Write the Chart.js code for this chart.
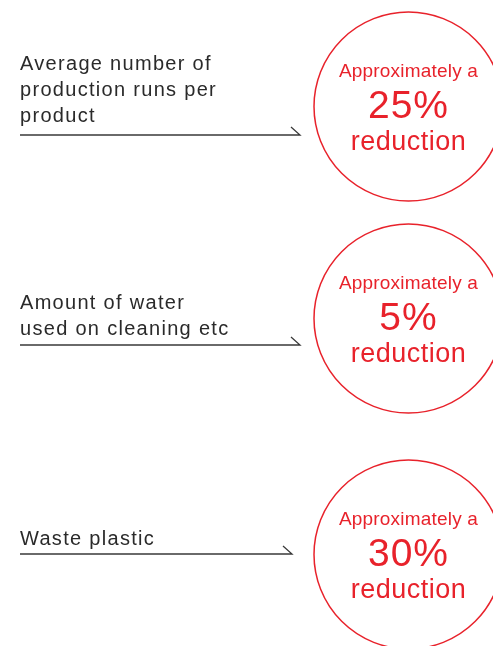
<!DOCTYPE html>
<html>
<head>
<meta charset="utf-8">
<script src="https://cdn.jsdelivr.net/npm/chart.js@4/dist/chart.umd.min.js"></script>
<style>
  html, body { margin: 0; padding: 0; background: #fff; }
  #wrap { width: 493px; height: 646px; }
</style>
</head>
<body>
<div id="wrap"><canvas id="infoChart" width="493" height="646"></canvas></div>
<script>
// data
const categories = [
    ['Average number of', 'production runs per', 'product'],
    ['Amount of water', 'used on cleaning etc'],
    ['Waste plastic']
];
const reductions = [25, 5, 30];
const prefixText = 'Approximately a';
const suffixText = 'reduction';

// layout (in the chart's own axis units, which run 0..493 / 0..646)
const rowCenters = [106.5, 318.5, 554.5];
const labelBaselines = [122, 335, 545];
const lineRows = [135, 345, 554];
const lineStarts = [20, 20, 20];
const lineEnds = [300, 300, 292];
const circleX = 408.5;

const RED = '#e8222b';
const INK = '#2a2a2a';

const lineDatasets = categories.map((c, i) => ({
    type: 'line',
    data: [
        { x: lineStarts[i], y: lineRows[i] },
        { x: lineEnds[i], y: lineRows[i] },
        { x: lineEnds[i] - 9, y: lineRows[i] - 8 }
    ],
    borderColor: '#3a3a3a',
    borderWidth: 1.3,
    pointRadius: 0,
    fill: false,
    tension: 0,
    clip: false
}));

const textPlugin = {
    id: 'textPlugin',
    afterDraw(chart) {
        const ctx = chart.ctx;
        const xs = chart.scales.x;
        const ys = chart.scales.y;
        ctx.save();
        ctx.textBaseline = 'alphabetic';

        // left labels, sitting above their lines
        ctx.fillStyle = INK;
        ctx.textAlign = 'left';
        ctx.font = '20px "Liberation Sans", Arial, sans-serif';
        ctx.letterSpacing = '1.3px';
        categories.forEach((lines, i) => {
            const baseY = ys.getPixelForValue(labelBaselines[i]);
            lines.slice().reverse().forEach((t, k) => {
                ctx.fillText(t, xs.getPixelForValue(lineStarts[i]), baseY - k * 25.8);
            });
        });

        // circle texts
        ctx.fillStyle = RED;
        ctx.textAlign = 'center';
        reductions.forEach((v, i) => {
            const cx = xs.getPixelForValue(circleX);
            const cy = ys.getPixelForValue(rowCenters[i]);
            ctx.font = '19px "Liberation Sans", Arial, sans-serif';
            ctx.letterSpacing = '0.2px';
            ctx.fillText(prefixText, cx, cy - 29.5);
            ctx.font = '39px "Liberation Sans", Arial, sans-serif';
            ctx.letterSpacing = '1px';
            ctx.fillText(v + '%', cx, cy + 11);
            ctx.font = '27px "Liberation Sans", Arial, sans-serif';
            ctx.letterSpacing = '0.5px';
            ctx.fillText(suffixText, cx, cy + 43);
        });
        ctx.restore();
    }
};

new Chart(document.getElementById('infoChart'), {
    type: 'scatter',
    data: {
        datasets: [
            {
                data: reductions.map((v, i) => ({ x: circleX, y: rowCenters[i], v: v })),
                pointRadius: 94.5,
                pointHoverRadius: 94.5,
                pointBorderWidth: 1.5,
                borderColor: RED,
                backgroundColor: 'rgba(0,0,0,0)',
                clip: false
            },
            ...lineDatasets
        ]
    },
    options: {
        responsive: false,
        animation: false,
        events: [],
        layout: { padding: 0, autoPadding: false },
        plugins: {
            legend: { display: false },
            tooltip: { enabled: false }
        },
        scales: {
            x: { type: 'linear', min: 0, max: 493, display: false },
            y: { type: 'linear', min: 0, max: 646, reverse: true, display: false }
        }
    },
    plugins: [textPlugin]
});
</script>
</body>
</html>
